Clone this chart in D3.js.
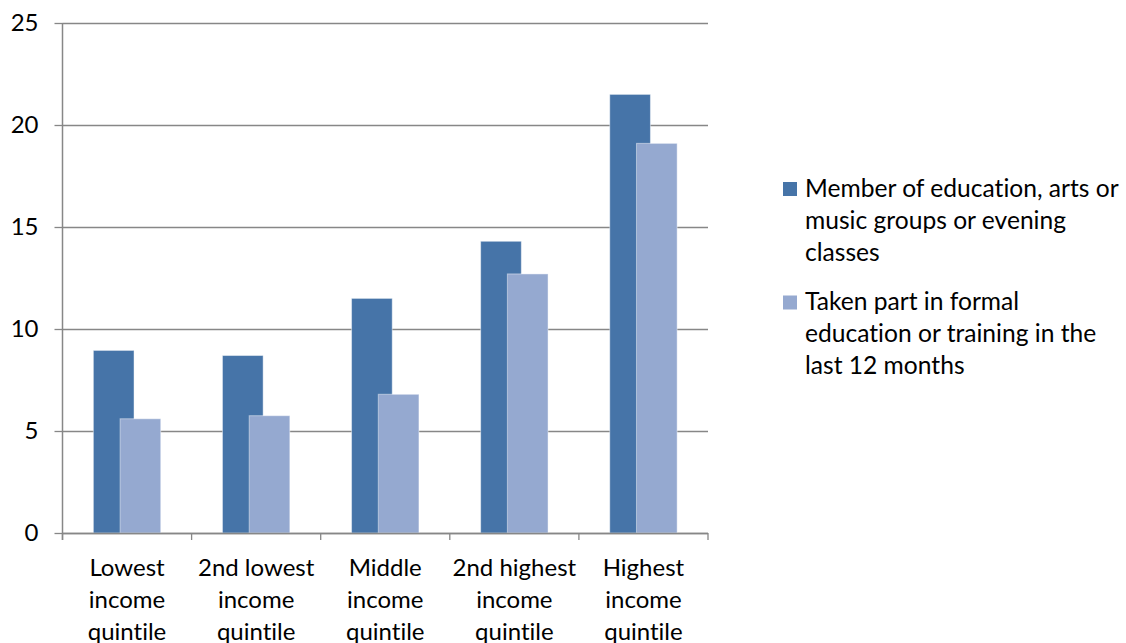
<!DOCTYPE html>
<html>
<head>
<meta charset="utf-8">
<script src="https://cdn.jsdelivr.net/npm/d3@7"></script>
<style>
  html, body { margin: 0; padding: 0; background: #fff; }
  svg { display: block; }
  text { font-family: Lato, "Noto Sans", sans-serif; fill: #000;
         font-variant-ligatures: none; font-feature-settings: "liga" 0, "clig" 0; }
</style>
</head>
<body>
<svg id="chart" width="1126" height="643"></svg>
<script>
// Participation by household income quintile (%)
const categories = [
  ["Lowest", "income", "quintile"],
  ["2nd lowest", "income", "quintile"],
  ["Middle", "income", "quintile"],
  ["2nd highest", "income", "quintile"],
  ["Highest", "income", "quintile"]
];
const memberValues = [8.95, 8.7, 11.5, 14.3, 21.5];
const formalEduValues = [5.6, 5.75, 6.8, 12.7, 19.1];
const seriesNames = [
  ["Member of education, arts or", "music groups or evening", "classes"],
  ["Taken part in formal", "education or training in the", "last 12 months"]
];
const seriesColors = ["#4674A8", "#95A9D0"];
const yTicks = [0, 5, 10, 15, 20, 25];

const svg = d3.select("#chart");
const plot = { left: 62.5, right: 708, top: 23, bottom: 533 };
const fontSize = 24;
const legendFontSize = 24.6;
const gridColor = "#878787";

const keys = categories.map((c, i) => i);
const x = d3.scaleBand().domain(keys).range([plot.left, plot.right]).padding(0);
const y = d3.scaleLinear().domain([0, 25]).range([plot.bottom, plot.top]);

// horizontal gridlines
svg.append("g")
  .selectAll("line")
  .data(yTicks)
  .join("line")
  .attr("x1", plot.left).attr("x2", plot.right)
  .attr("y1", d => Math.round(y(d)) + 0.5).attr("y2", d => Math.round(y(d)) + 0.5)
  .attr("stroke", gridColor).attr("stroke-width", 1.3);

// bars: the second series overlaps the first
const bw = x.bandwidth();
const barW = bw * 0.315;
const offsets = [-bw * 0.261, -bw * 0.054];
const series = [memberValues, formalEduValues];
series.forEach((vals, s) => {
  svg.append("g")
    .selectAll("rect")
    .data(vals)
    .join("rect")
    .attr("x", (d, i) => x(i) + bw / 2 + offsets[s])
    .attr("width", barW)
    .attr("y", d => y(d))
    .attr("height", d => y(0) - y(d))
    .attr("fill", seriesColors[s])
    .attr("stroke", "rgba(255,255,255,0.45)")
    .attr("stroke-width", 1);
});

// y axis
const yAxis = d3.axisLeft(y).tickValues(yTicks).tickSize(8).tickPadding(16)
  .tickFormat(d3.format("d"));
const gy = svg.append("g").attr("transform", `translate(${plot.left},0)`).call(yAxis);
gy.select(".domain").attr("stroke", gridColor).attr("stroke-width", 1.5)
  .attr("d", `M0,${plot.top}V${plot.bottom + 7}`);
gy.selectAll(".tick line").attr("stroke", gridColor).attr("stroke-width", 1.3);
gy.selectAll(".tick text").style("font-size", fontSize + "px")
  .style("font-family", "Lato, sans-serif").attr("fill", "#000");

// x axis baseline and category boundary ticks
const gx = svg.append("g");
gx.append("line")
  .attr("x1", plot.left).attr("x2", plot.right)
  .attr("y1", plot.bottom + 0.5).attr("y2", plot.bottom + 0.5)
  .attr("stroke", gridColor).attr("stroke-width", 1.5);
const bounds = keys.map(k => x(k)).concat([plot.right]);
gx.selectAll("line.tick")
  .data(bounds)
  .join("line")
  .attr("class", "tick")
  .attr("x1", d => d).attr("x2", d => d)
  .attr("y1", plot.bottom).attr("y2", plot.bottom + 7)
  .attr("stroke", gridColor).attr("stroke-width", 1.3);

// category labels
const lineH = 32;
gx.selectAll("text.cat")
  .data(categories)
  .join("text")
  .attr("class", "cat")
  .attr("text-anchor", "middle")
  .style("font-size", fontSize + "px")
  .each(function(lines, i) {
    d3.select(this).selectAll("tspan")
      .data(lines)
      .join("tspan")
      .attr("x", x(i) + bw / 2)
      .attr("y", (d, j) => 576 + j * lineH)
      .text(d => d);
  });

// legend
const legend = svg.append("g").attr("transform", "translate(783,0)");
const legendTops = [182, 295.5];
seriesNames.forEach((lines, s) => {
  legend.append("rect")
    .attr("x", 0).attr("y", legendTops[s])
    .attr("width", 14).attr("height", 14)
    .attr("fill", seriesColors[s]);
  const t = legend.append("text").style("font-size", legendFontSize + "px");
  t.selectAll("tspan")
    .data(lines)
    .join("tspan")
    .attr("x", 22)
    .attr("y", (d, j) => legendTops[s] + 14.5 + j * lineH)
    .text(d => d);
});
</script>
</body>
</html>
